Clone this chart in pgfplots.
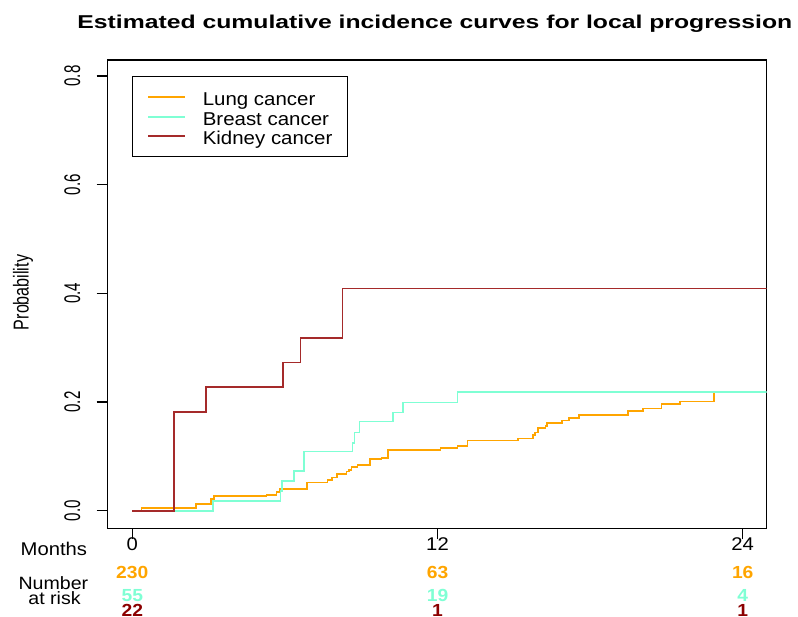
\documentclass[border=0pt]{standalone}
\usepackage{fontspec}
\setmainfont{Liberation Sans}[FakeStretch=1.1]
\newfontfamily\titlefont{Liberation Sans}[FakeStretch=1.33]
\newfontfamily\plainfont{Liberation Sans}
\usepackage{graphicx}
\usepackage{pgfplots}
\pgfplotsset{compat=1.18}
\definecolor{lung}{HTML}{FFA500}
\definecolor{breast}{HTML}{7FFFD4}
\definecolor{kidney}{HTML}{A52A2A}
\definecolor{kidneytxt}{HTML}{8B0000}
\newcommand{\tf}{\fontsize{18.4}{22}\selectfont}
\newcommand{\ytl}[1]{\scalebox{1}[1.5]{\plainfont\fontsize{15.1}{18}\selectfont #1}}
\begin{document}
\begin{tikzpicture}
\path[use as bounding box] (0pt,0pt) rectangle (798pt,617pt);
\begin{axis}[
  at={(107.7pt,88.7pt)}, anchor=south west,
  scale only axis, width=659pt, height=468.3pt,
  xmin=-0.96, xmax=24.96, ymin=-0.0324, ymax=0.8296,
  xtick={0,12,24}, ytick={0,0.2,0.4,0.6,0.8},
  xticklabels={}, yticklabels={},
  xtick pos=bottom, ytick pos=left,
  tick align=outside, major tick length=11pt,
  tick style={black, line width=1.2pt},
  axis line style={black, line width=1.2pt},
  legend style={at={(0.0364,0.9658)}, anchor=north west, draw=black,
    line width=1.2pt, inner xsep=15pt, inner ysep=9pt,
    row sep=-3.5pt, column sep=17pt, font=\fontsize{18.6}{22}\selectfont,
    cells={anchor=base west},
    nodes={inner sep=0pt, text height=20pt, text depth=3pt}},
  legend image code/.code={\draw[#1, line width=1.8pt] (0pt,8.3pt) -- (36.7pt,8.3pt);},
]
\addplot[const plot, color=lung, line width=1.7pt] coordinates {
(0,0) (0.37,0.0044) (2.50,0.0118) (3.09,0.0215) (3.22,0.027) (5.28,0.029)
(5.68,0.034) (5.81,0.040) (6.88,0.052) (7.68,0.0565) (7.86,0.061) (8.06,0.067)
(8.43,0.072) (8.53,0.075) (8.63,0.080) (8.86,0.084) (9.35,0.095) (9.81,0.0965)
(10.07,0.112) (12.13,0.116) (12.80,0.119) (13.19,0.129) (15.18,0.133) (15.77,0.139)
(15.84,0.144) (15.97,0.152) (16.26,0.156) (16.32,0.162) (16.91,0.166) (17.18,0.171)
(17.58,0.176) (19.50,0.184) (20.09,0.188) (20.82,0.196) (21.54,0.201) (22.89,0.218)
};
\addlegendentry{Lung cancer}
\addplot[const plot, color=breast, line width=1.7pt] coordinates {
(0,0) (3.19,0.0182) (5.84,0.0364) (5.89,0.0545) (6.36,0.0727) (6.75,0.109)
(8.67,0.124) (8.75,0.144) (8.94,0.164) (10.26,0.181) (10.66,0.199) (12.80,0.218) (25.5,0.218)
};
\addlegendentry{Breast cancer}
\addplot[const plot, color=kidney, line width=1.7pt] coordinates {
(0,0) (1.64,0.1818) (2.90,0.2273) (5.94,0.2727) (6.62,0.3182) (8.27,0.4091) (25.5,0.4091)
};
\addlegendentry{Kidney cancer}
\end{axis}
% title
\node[anchor=base, inner sep=0pt] at (434.9pt,588.7pt) {\titlefont\bfseries\fontsize{18.6}{22}\selectfont Estimated cumulative incidence curves for local progression};
% y axis label and tick labels
\node[rotate=90, anchor=base, inner sep=0pt] at (28.5pt,324.5pt) {\scalebox{1}[1.34]{\plainfont\fontsize{16.1}{19}\selectfont Probability}};
\node[rotate=90, anchor=base, inner sep=0pt] at (80pt,106.3pt) {\ytl{0.0}};
\node[rotate=90, anchor=base, inner sep=0pt] at (80pt,215.0pt) {\ytl{0.2}};
\node[rotate=90, anchor=base, inner sep=0pt] at (80pt,323.6pt) {\ytl{0.4}};
\node[rotate=90, anchor=base, inner sep=0pt] at (80pt,432.3pt) {\ytl{0.6}};
\node[rotate=90, anchor=base, inner sep=0pt] at (80pt,540.9pt) {\ytl{0.8}};
% x tick labels
\node[anchor=base, inner sep=0pt] at (132.3pt,66pt) {\tf 0};
\node[anchor=base, inner sep=0pt] at (437.5pt,66pt) {\tf 12};
\node[anchor=base, inner sep=0pt] at (742.7pt,66pt) {\tf 24};
\node[anchor=base east, inner sep=0pt] at (87.3pt,61.3pt) {\tf Months};
\node[anchor=base, inner sep=0pt] at (53.4pt,27.5pt) {\fontsize{17.8}{21}\selectfont Number};
\node[anchor=base, inner sep=0pt] at (54.5pt,12pt) {\fontsize{17.8}{21}\selectfont at risk};
% number at risk
\newcommand{\nr}{\bfseries\fontsize{17.5}{20}\selectfont}
\node[anchor=base, inner sep=0pt, text=lung] at (132.3pt,38.7pt) {\nr 230};
\node[anchor=base, inner sep=0pt, text=lung] at (437.5pt,38.7pt) {\nr 63};
\node[anchor=base, inner sep=0pt, text=lung] at (742.7pt,38.7pt) {\nr 16};
\node[anchor=base, inner sep=0pt, text=breast] at (132.3pt,15.3pt) {\nr 55};
\node[anchor=base, inner sep=0pt, text=breast] at (437.5pt,15.3pt) {\nr 19};
\node[anchor=base, inner sep=0pt, text=breast] at (742.7pt,15.3pt) {\nr 4};
\node[anchor=base, inner sep=0pt, text=kidneytxt] at (132.3pt,0pt) {\nr 22};
\node[anchor=base, inner sep=0pt, text=kidneytxt] at (437.5pt,0pt) {\nr 1};
\node[anchor=base, inner sep=0pt, text=kidneytxt] at (742.7pt,0pt) {\nr 1};
\end{tikzpicture}
\end{document}
